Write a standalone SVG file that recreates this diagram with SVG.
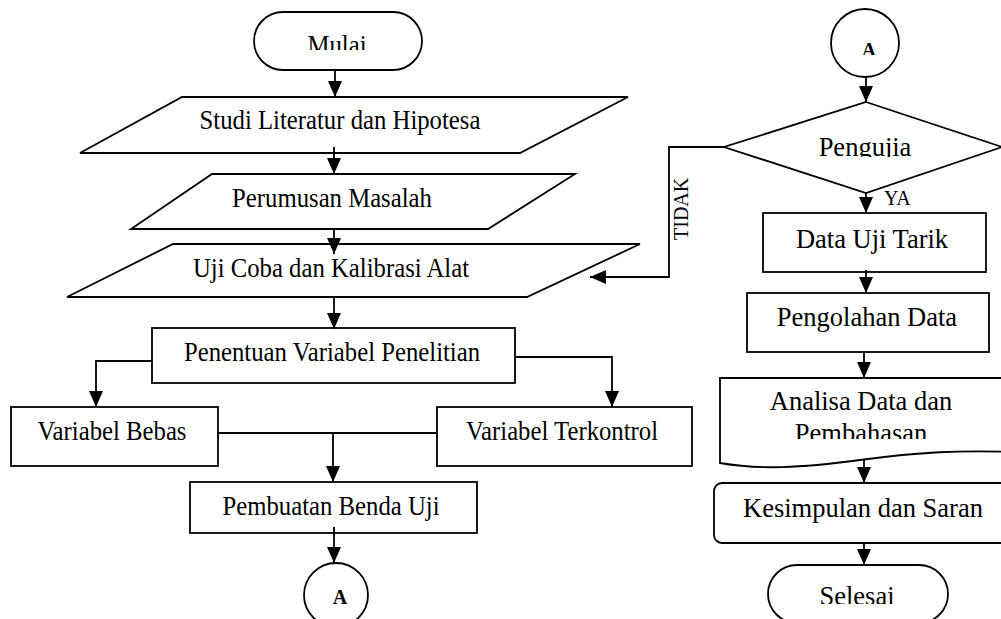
<svg xmlns="http://www.w3.org/2000/svg" width="1001" height="619" viewBox="0 0 1001 619">
<style>
.s{fill:#fff;stroke:#000;stroke-width:1.8}
.t{font-family:"Liberation Serif","Times New Roman",serif;font-size:26.6px;fill:#000;text-anchor:middle}
.r{font-family:"Liberation Serif","Times New Roman",serif;font-size:26.5px;fill:#000;text-anchor:middle}
.b{font-family:"Liberation Serif","Times New Roman",serif;font-size:20px;font-weight:bold;fill:#000;text-anchor:middle}
.l{font-family:"Liberation Serif","Times New Roman",serif;font-size:20px;fill:#000}
.c{fill:none;stroke:#000;stroke-width:1.8}
</style>
<defs>
<marker id="ah" markerUnits="userSpaceOnUse" markerWidth="16" markerHeight="14" refX="16" refY="7" orient="auto">
<path d="M0,0 L16,7 L0,14 z" fill="#000"/>
</marker>
<clipPath id="cMulai"><rect x="250" y="10" width="180" height="40"/></clipPath>
<clipPath id="cA1"><rect x="300" y="560" width="80" height="45"/></clipPath>
<clipPath id="cA2"><rect x="830" y="10" width="80" height="45"/></clipPath>
<clipPath id="cPeng"><rect x="730" y="100" width="270" height="57"/></clipPath>
<clipPath id="cPemb"><rect x="720" y="380" width="290" height="59"/></clipPath>
<clipPath id="cSel"><rect x="760" y="565" width="200" height="39"/></clipPath>
</defs>
<rect width="1001" height="619" fill="#fff"/>

<g id="mulai">
<rect class="s" x="254" y="12" width="168" height="58" rx="29"/>
<g clip-path="url(#cMulai)"><text class="t" transform="matrix(0.93,0,0,1,337,54)">Mulai</text></g>
</g>
<g id="studi">
<polygon class="s" points="182,97 628,97 520,153 80,153"/>
<text class="t" transform="matrix(0.93,0,0,1,340,129)">Studi Literatur dan Hipotesa</text>
</g>
<g id="perumusan">
<polygon class="s" points="212,174 575,174 488,229 131,229"/>
<text class="t" transform="matrix(0.93,0,0,1,332,207)">Perumusan Masalah</text>
</g>
<g id="ujicoba">
<polygon class="s" points="173,244 640,244 527,297 67,297"/>
<text class="t" transform="matrix(0.93,0,0,1,331,277)">Uji Coba dan Kalibrasi Alat</text>
</g>
<g id="penentuan">
<rect class="s" x="152" y="328" width="363" height="55"/>
<text class="t" transform="matrix(0.93,0,0,1,332,361)">Penentuan Variabel Penelitian</text>
</g>
<g id="bebas">
<rect class="s" x="11" y="407" width="207" height="59"/>
<text class="t" transform="matrix(0.93,0,0,1,112,440)">Variabel Bebas</text>
</g>
<g id="terkontrol">
<rect class="s" x="437" y="407" width="255" height="59"/>
<text class="t" transform="matrix(0.93,0,0,1,562,440)">Variabel Terkontrol</text>
</g>
<g id="pembuatan">
<rect class="s" x="190" y="482" width="287" height="51"/>
<text class="t" transform="matrix(0.93,0,0,1,331,515)">Pembuatan Benda Uji</text>
</g>
<g id="konektorA1">
<circle class="s" cx="336" cy="595" r="32"/>
<text class="b" x="340" y="604" clip-path="url(#cA1)">A</text>
</g>

<g id="konektorA2">
<circle class="s" cx="865" cy="43" r="34"/>
<text class="b" x="869" y="57" clip-path="url(#cA2)">A</text>
</g>
<g id="pengujian">
<polygon class="s" points="866,102 1002,147 866,193 724,147"/>
<text class="r" x="865" y="156" clip-path="url(#cPeng)">Pengujia</text>
</g>
<g id="datauji">
<rect class="s" x="763" y="213" width="223" height="59"/>
<text class="r" x="872" y="248">Data Uji Tarik</text>
</g>
<g id="pengolahan">
<rect class="s" x="747" y="293" width="242" height="59"/>
<text class="r" x="867" y="326">Pengolahan Data</text>
</g>
<g id="analisa">
<path class="s" d="M720,378 H1012 V452 C960,450 920,452 860,460 C800,468 760,470 720,463 Z"/>
<text class="r" x="861" y="410">Analisa Data dan</text>
<text class="r" x="861" y="442" clip-path="url(#cPemb)">Pembahasan</text>
</g>
<g id="kesimpulan">
<rect class="s" x="714" y="483" width="300" height="60" rx="8"/>
<text class="r" x="863" y="517">Kesimpulan dan Saran</text>
</g>
<g id="selesai">
<rect class="s" x="768" y="565" width="180" height="58" rx="29"/>
<text class="r" x="857" y="605" clip-path="url(#cSel)">Selesai</text>
</g>

<g id="connectors">
<path class="c" d="M335,70 V97" marker-end="url(#ah)"/>
<path class="c" d="M334,147 V174" marker-end="url(#ah)"/>
<path class="c" d="M334,229 V254" marker-end="url(#ah)"/>
<path class="c" d="M334,297 V329" marker-end="url(#ah)"/>
<path class="c" d="M152,361 H96 V407" marker-end="url(#ah)"/>
<path class="c" d="M515,357 H612 V407" marker-end="url(#ah)"/>
<path class="c" d="M218,433 H437"/>
<path class="c" d="M333,433 V482" marker-end="url(#ah)"/>
<path class="c" d="M334,527 V563" marker-end="url(#ah)"/>
<path class="c" d="M866,77 V102" marker-end="url(#ah)"/>
<path class="c" d="M866,193 V213" marker-end="url(#ah)"/>
<path class="c" d="M724,147 H669 V277 H590" marker-end="url(#ah)"/>
<path class="c" d="M866,270 V293" marker-end="url(#ah)"/>
<path class="c" d="M864,352 V378" marker-end="url(#ah)"/>
<path class="c" d="M864,460 V483" marker-end="url(#ah)"/>
<path class="c" d="M864,543 V565" marker-end="url(#ah)"/>
<text class="l" transform="translate(688,240) rotate(-90)">TIDAK</text>
<text class="l" x="884" y="205">YA</text>
</g>
</svg>
